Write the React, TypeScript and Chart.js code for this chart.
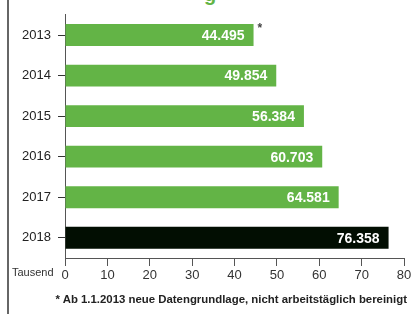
import React, { useEffect, useRef } from "react";
import { Chart, registerables } from "chart.js";

Chart.register(...registerables);

const years = ["2013", "2014", "2015", "2016", "2017", "2018"];
const values = [44.495, 49.854, 56.384, 60.703, 64.581, 76.358];
const valueLabels = ["44.495", "49.854", "56.384", "60.703", "64.581", "76.358"];
const barColors = ["#63b446", "#63b446", "#63b446", "#63b446", "#63b446", "#020e02"];
const xTicks = [0, 10, 20, 30, 40, 50, 60, 70, 80];
const unitLabel = "Tausend";
const footnote = "* Ab 1.1.2013 neue Datengrundlage, nicht arbeitstäglich bereinigt";

const FONT = "'Liberation Sans', Arial, sans-serif";

const labelPlugin = {
  id: "barLabels",
  afterDatasetsDraw(chart: any) {
    const ctx = chart.ctx;
    const meta = chart.getDatasetMeta(0);
    ctx.save();
    meta.data.forEach((bar: any, i: number) => {
      ctx.font = `bold 14px ${FONT}`;
      ctx.fillStyle = "#ffffff";
      ctx.textAlign = "right";
      ctx.textBaseline = "middle";
      ctx.fillText(valueLabels[i], bar.x - 9, bar.y + 1);
      if (i === 0) {
        ctx.font = `bold 12px ${FONT}`;
        ctx.fillStyle = "#444";
        ctx.textAlign = "left";
        ctx.fillText("*", bar.x + 4, bar.y - 6);
      }
    });
    ctx.restore();
  },
};

export default function App() {
  const ref = useRef<HTMLCanvasElement>(null);
  useEffect(() => {
    if (!ref.current) return;
    const chart = new Chart(ref.current, {
      type: "bar",
      data: {
        labels: years,
        datasets: [
          {
            data: values,
            backgroundColor: barColors,
            barPercentage: 0.54,
            categoryPercentage: 1,
          },
        ],
      },
      options: {
        indexAxis: "y",
        animation: false,
        responsive: false,
        layout: { padding: { left: 0, top: 12, right: 11, bottom: 0 } },
        plugins: { legend: { display: false }, tooltip: { enabled: false } },
        scales: {
          x: {
            min: 0,
            max: 80,
            afterBuildTicks(scale: any) {
              scale.ticks = xTicks.map((v) => ({ value: v }));
            },
            afterFit(scale: any) {
              scale.height = 56;
            },
            grid: {
              drawOnChartArea: false,
              drawTicks: true,
              tickLength: 8,
              color: "#555",
              lineWidth: 1,
            },
            border: { display: true, color: "#555", width: 1 },
            ticks: {
              padding: 2,
              color: "#333",
              font: { family: FONT, size: 13 },
              maxRotation: 0,
              autoSkip: false,
            },
          },
          y: {
            afterFit(scale: any) {
              scale.width = 65;
            },
            grid: {
              drawOnChartArea: false,
              drawTicks: true,
              tickLength: 7,
              offset: false,
              color: "#333",
            },
            border: { display: true, color: "#555", width: 1 },
            ticks: {
              padding: 7,
              color: "#222",
              font: { family: FONT, size: 13 },
            },
          },
        },
      },
      plugins: [labelPlugin],
    });
    return () => chart.destroy();
  }, []);

  return (
    <div style={{ position: "fixed", left: 0, top: 0, width: 415, height: 314, background: "#fff", overflow: "hidden" }}>
      <div style={{ position: "absolute", left: 7, top: 0, width: 2, height: 314, background: "#666" }} />
      <div
        style={{
          position: "absolute",
          left: 204,
          top: -17,
          color: "#63b446",
          font: `bold 20px ${FONT}`,
        }}
      >
        g
      </div>
      <canvas ref={ref} width={415} height={314} style={{ position: "absolute", left: 0, top: 0 }} />
      <div
        style={{
          position: "absolute",
          left: 12,
          top: 266,
          color: "#333",
          font: `11px ${FONT}`,
        }}
      >
        {unitLabel}
      </div>
      <div
        style={{
          position: "absolute",
          right: 8,
          top: 293,
          color: "#222",
          font: `bold 11.4px 'Liberation Sans Narrow', ${FONT}`,
          whiteSpace: "nowrap",
        }}
      >
        {footnote}
      </div>
    </div>
  );
}
